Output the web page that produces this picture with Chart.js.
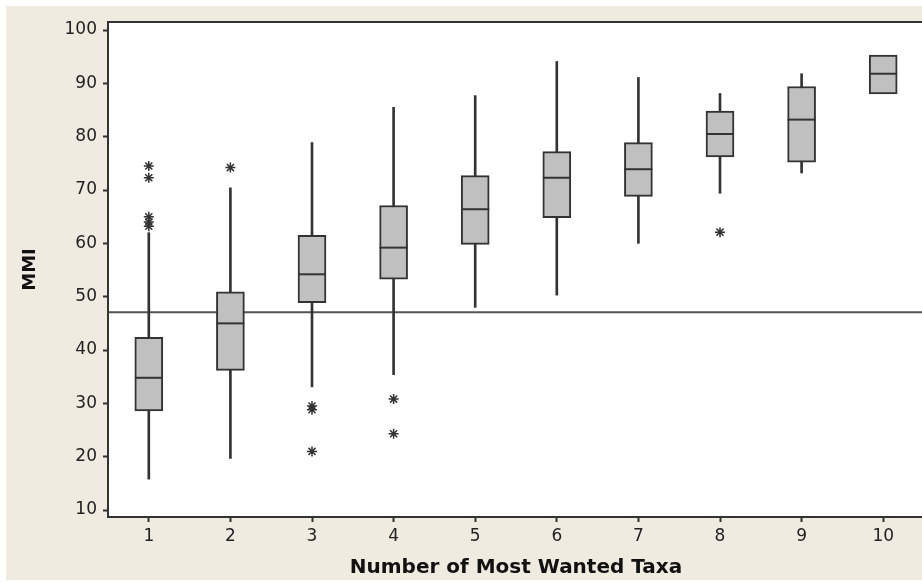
<!DOCTYPE html>
<html lang="en">
<head>
  <meta charset="UTF-8" />
  <title>MMI by Number of Most Wanted Taxa</title>
  <script src="https://cdn.jsdelivr.net/npm/chart.js"></script>
  <style>
    html, body { margin: 0; padding: 0; background: #fff; overflow: hidden; }
    .panel {
      position: absolute; left: 6px; top: 6px; width: 940px; height: 574px;
      background: #efebe1;
    }
    .wrap { position: absolute; left: 0; top: 0; width: 940px; height: 582px; }
  </style>
</head>
<body>
  <div class="panel"></div>
  <div class="wrap"><canvas id="boxChart" width="940" height="582"></canvas></div>
  <script>
    // groups on the x axis
    const groups = [1, 2, 3, 4, 5, 6, 7, 8, 9, 10];
    // box statistics
    const lowWhisker = [15.8, 19.7, 33.1, 35.4, 48.0, 50.3, 60.0, 69.4, 73.2, 88.0];
    const q1 = [28.6, 36.2, 48.9, 53.3, 59.8, 64.8, 68.8, 76.2, 75.2, 88.0];
    const median = [34.8, 45.0, 54.2, 59.2, 66.4, 72.3, 73.9, 80.5, 83.2, 91.8];
    const q3 = [42.4, 50.9, 61.5, 67.1, 72.7, 77.2, 78.9, 84.8, 89.4, 95.3];
    const highWhisker = [62.0, 70.4, 78.9, 85.5, 87.7, 94.1, 91.1, 88.1, 91.8, 95.3];
    // outliers (asterisks)
    const outlierGroup = [1, 1, 1, 1, 1, 2, 3, 3, 3, 4, 4, 8];
    const outlierValue = [63.2, 64.0, 65.0, 72.3, 74.5, 74.2, 29.5, 28.8, 21.0, 30.8, 24.3, 62.1];
    // horizontal reference line
    const refValue = 47.1;
    const yTicks = [10, 20, 30, 40, 50, 60, 70, 80, 90, 100];

    const ink = "#333333";

    const frame = {
      id: "frame",
      beforeDatasetsDraw(chart) {
        const a = chart.chartArea, ctx = chart.ctx;
        ctx.save();
        ctx.fillStyle = "#ffffff";
        ctx.fillRect(a.left, a.top, a.right - a.left, a.bottom - a.top);
        ctx.restore();
      },
      afterDatasetsDraw(chart) {
        const a = chart.chartArea, ctx = chart.ctx;
        ctx.save();
        ctx.strokeStyle = ink;
        ctx.lineWidth = 2;
        ctx.strokeRect(a.left, a.top, a.right - a.left, a.bottom - a.top);
        ctx.restore();
      }
    };

    // whiskers only where they stick out of the box
    const whiskerData = groups
      .map((g, i) => ({ x: g, y: [lowWhisker[i], highWhisker[i]] }))
      .filter((d, i) => lowWhisker[i] < q1[i] || highWhisker[i] > q3[i]);

    new Chart(document.getElementById("boxChart"), {
      type: "bar",
      data: {
        datasets: [
          {
            type: "scatter",
            label: "Median",
            data: groups.map((g, i) => ({ x: g, y: median[i] })),
            pointStyle: "line",
            pointRadius: 14,
            borderColor: ink,
            borderWidth: 2,
            order: 0
          },
          {
            type: "scatter",
            label: "Outliers",
            data: outlierGroup.map((g, i) => ({ x: g, y: outlierValue[i] })),
            pointStyle: "star",
            pointRadius: 5,
            borderColor: ink,
            borderWidth: 1.5,
            order: 0
          },
          {
            label: "IQR",
            data: groups.map((g, i) => ({ x: g, y: [q1[i], q3[i]] })),
            backgroundColor: "#c0c0c0",
            borderColor: ink,
            borderWidth: 2,
            borderSkipped: false,
            barThickness: 28,
            grouped: false,
            order: 1
          },
          {
            label: "Whiskers",
            data: whiskerData,
            backgroundColor: ink,
            borderWidth: 0,
            barThickness: 2,
            grouped: false,
            order: 2
          },
          {
            type: "line",
            label: "Reference",
            data: [{ x: 0.5, y: refValue }, { x: 10.5, y: refValue }],
            borderColor: "#555555",
            borderWidth: 2,
            pointRadius: 0,
            order: 3
          }
        ]
      },
      options: {
        responsive: false,
        animation: false,
        events: [],
        layout: { padding: { left: 0, top: 22, right: 15, bottom: 0 } },
        plugins: { legend: { display: false }, tooltip: { enabled: false } },
        scales: {
          x: {
            type: "linear",
            min: 0.5,
            max: 10.5,
            offset: false,
            afterBuildTicks: (axis) => { axis.ticks = groups.map(v => ({ value: v })); },
            afterFit: (axis) => { axis.height = 65; },
            grid: { offset: false, drawOnChartArea: false, drawTicks: true, tickLength: 5, tickColor: ink, tickWidth: 2 },
            border: { display: false },
            ticks: { color: "#222", padding: 4, maxRotation: 0, font: { family: "DejaVu Sans", size: 17 } },
            title: {
              display: true,
              text: "Number of Most Wanted Taxa",
              color: "#111",
              padding: { top: 0, bottom: 2 },
              font: { family: "DejaVu Sans", size: 20, weight: "bold" }
            }
          },
          y: {
            type: "linear",
            min: 8.7,
            max: 101.5,
            afterBuildTicks: (axis) => { axis.ticks = yTicks.map(v => ({ value: v })); },
            afterFit: (axis) => { axis.width = 108; },
            grid: { drawOnChartArea: false, drawTicks: true, tickLength: 5, tickColor: ink, tickWidth: 2 },
            border: { display: false },
            ticks: { color: "#222", padding: 6, font: { family: "DejaVu Sans", size: 17 } },
            title: {
              display: true,
              text: "MMI",
              color: "#111",
              padding: { top: 20, bottom: 0 },
              font: { family: "DejaVu Sans", size: 18, weight: "bold" }
            }
          }
        }
      },
      plugins: [frame]
    });
  </script>
</body>
</html>
